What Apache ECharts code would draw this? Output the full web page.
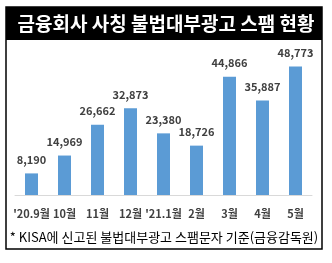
<!DOCTYPE html>
<html>
<head>
<meta charset="utf-8">
<script src="https://cdn.jsdelivr.net/npm/echarts@6/dist/echarts.min.js"></script>
<style>
  html, body { margin: 0; padding: 0; background: #fff; }
  #chart { width: 332px; height: 263px; }
</style>
</head>
<body>
<div id="chart"></div>
<script>
  // 월별 스팸 건수
  var months = ["'20.9월", '10월', '11월', '12월', "'21.1월", '2월', '3월', '4월', '5월'];
  var spamCounts = [8190, 14969, 26662, 32873, 23380, 18726, 44866, 35887, 48773];

  var titleText = '금융회사 사칭 불법대부광고 스팸 현황';
  var noteText = '* KISA에 신고된 불법대부광고 스팸문자 기준(금융감독원)';

  var fontKr = '"Noto Sans CJK KR", "Noto Sans", sans-serif';

  var chart = echarts.init(document.getElementById('chart'));
  chart.setOption({
    animation: false,
    backgroundColor: '#fff',
    graphic: [
      {
        type: 'rect',
        shape: { x: 6, y: 7, width: 316, height: 242 },
        style: { fill: '#fff', stroke: '#000', lineWidth: 1.5 },
        z: -10
      },
      {
        type: 'rect',
        shape: { x: 6, y: 7, width: 316, height: 33 },
        style: { fill: '#000' },
        z: -9
      },
      {
        type: 'text',
        x: 164,
        y: 237,
        style: {
          text: noteText,
          fill: '#000',
          font: '13px ' + fontKr,
          align: 'center',
          verticalAlign: 'middle'
        }
      }
    ],
    title: {
      text: titleText,
      left: 'center',
      top: 9,
      textStyle: {
        color: '#fff',
        fontSize: 19,
        fontWeight: 'bold',
        fontFamily: fontKr
      }
    },
    grid: { left: 15, right: 20, top: 50, bottom: 68 },
    xAxis: {
      type: 'category',
      data: months,
      axisLine: { lineStyle: { color: '#d9d9d9', width: 1 } },
      axisTick: { show: false },
      axisLabel: {
        interval: 0,
        hideOverlap: false,
        margin: 13,
        color: '#404040',
        fontSize: 11,
        fontWeight: 'bold',
        fontFamily: fontKr
      }
    },
    yAxis: {
      type: 'value',
      min: 0,
      max: 55000,
      show: false,
      splitLine: { show: false }
    },
    series: [{
      type: 'bar',
      data: spamCounts,
      barWidth: 13,
      itemStyle: { color: '#5b9bd5' },
      label: {
        show: true,
        position: 'top',
        distance: 8,
        color: '#404040',
        fontSize: 11,
        fontWeight: 'bold',
        fontFamily: fontKr,
        formatter: function (p) { return p.value.toLocaleString('en-US'); }
      }
    }]
  });
</script>
</body>
</html>
